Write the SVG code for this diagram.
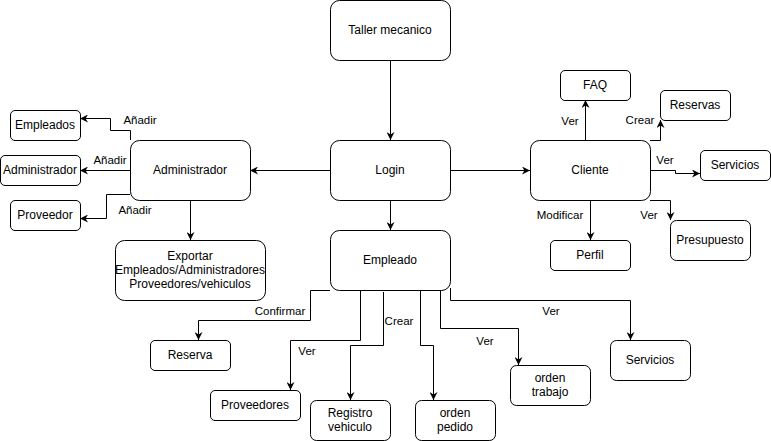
<svg xmlns="http://www.w3.org/2000/svg" width="771" height="441" viewBox="0 0 771 441">
<defs>
<marker id="arr" viewBox="0 0 10 10" markerWidth="8" markerHeight="8" refX="10" refY="5" orient="auto" markerUnits="userSpaceOnUse">
<path d="M0,0 L10,5 L0,10 L3,5 Z" fill="#000"/>
</marker>
<style>
.n rect{fill:#fff;stroke:#000;stroke-width:1}
.n text{font-family:"Liberation Sans",Arial,sans-serif;font-size:12px;fill:#000;text-anchor:middle;dominant-baseline:central}
.e path{fill:none;stroke:#000;stroke-width:1;marker-end:url(#arr)}
.e text{font-family:"Liberation Sans",Arial,sans-serif;font-size:11.5px;fill:#000;text-anchor:middle;dominant-baseline:central}
</style>
</defs>
<rect width="771" height="441" fill="#fff"/>
<g class="e" id="connectors">
<path d="M390.5,60 V140"/>
<path d="M330,170.5 H250"/>
<path d="M450,170.5 H530"/>
<path d="M390.5,200 V230"/>
<path d="M130.5,140 V130.5 H110.5 V118.5 H80"/>
<path d="M130,170.5 H80"/>
<path d="M130,194.5 H106.5 V218.5 H80"/>
<path d="M190.5,200 V240"/>
<path d="M585.5,140 V100"/>
<path d="M650,140.5 H660.5 V120"/>
<path d="M650,170.5 H675.5 V173.5 H700"/>
<path d="M650,200.5 H670.5 V220"/>
<path d="M590.5,200 V240"/>
<path d="M330,290.5 H310.5 V320.5 H198.5 V340"/>
<path d="M360.5,290 V340.5 H290.5 V390"/>
<path d="M383.5,292 V345.5 H350.5 V400"/>
<path d="M420.5,290 V345.5 H433.5 V400"/>
<path d="M440.5,290 V328.5 H518.5 V365"/>
<path d="M450.5,288 V300.5 H630.5 V340"/>
<text x="140" y="120">Añadir</text>
<text x="110" y="160">Añadir</text>
<text x="135" y="210">Añadir</text>
<text x="570" y="121">Ver</text>
<text x="640" y="120">Crear</text>
<text x="665" y="160">Ver</text>
<text x="649" y="215">Ver</text>
<text x="560" y="215">Modificar</text>
<text x="280" y="311">Confirmar</text>
<text x="307" y="351">Ver</text>
<text x="399" y="321">Crear</text>
<text x="485" y="341">Ver</text>
<text x="551" y="311">Ver</text>
</g>
<g class="n" id="taller"><rect x="330.5" y="0.5" width="120" height="60" rx="9"/><text x="390" y="30">Taller mecanico</text></g>
<g class="n" id="login"><rect x="330.5" y="140.5" width="120" height="60" rx="9"/><text x="390" y="170">Login</text></g>
<g class="n" id="empleado"><rect x="330.5" y="230.5" width="120" height="60" rx="9"/><text x="390" y="260">Empleado</text></g>
<g class="n" id="administrador"><rect x="130.5" y="140.5" width="120" height="60" rx="9"/><text x="190" y="170">Administrador</text></g>
<g class="n" id="empleados"><rect x="10.5" y="110.5" width="70" height="30" rx="4.5"/><text x="45" y="125">Empleados</text></g>
<g class="n" id="administrador2"><rect x="0.5" y="155.5" width="80" height="30" rx="4.5"/><text x="40" y="170">Administrador</text></g>
<g class="n" id="proveedor"><rect x="10.5" y="200.5" width="70" height="30" rx="4.5"/><text x="45" y="215">Proveedor</text></g>
<g class="n" id="exportar"><rect x="115.5" y="240.5" width="150" height="60" rx="9"/><text x="190" y="256">Exportar</text><text x="190" y="270">Empleados/Administradores</text><text x="190" y="284">Proveedores/vehiculos</text></g>
<g class="n" id="cliente"><rect x="530.5" y="140.5" width="120" height="60" rx="9"/><text x="590" y="170">Cliente</text></g>
<g class="n" id="faq"><rect x="560.5" y="70.5" width="70" height="30" rx="4.5"/><text x="595" y="85">FAQ</text></g>
<g class="n" id="reservas"><rect x="660.5" y="90.5" width="70" height="30" rx="4.5"/><text x="695" y="105">Reservas</text></g>
<g class="n" id="servicios1"><rect x="700.5" y="150.5" width="70" height="30" rx="4.5"/><text x="735" y="165">Servicios</text></g>
<g class="n" id="presupuesto"><rect x="670.5" y="220.5" width="80" height="40" rx="6"/><text x="710" y="240">Presupuesto</text></g>
<g class="n" id="perfil"><rect x="550.5" y="240.5" width="80" height="30" rx="4.5"/><text x="590" y="255">Perfil</text></g>
<g class="n" id="reserva"><rect x="150.5" y="340.5" width="80" height="30" rx="4.5"/><text x="190" y="355">Reserva</text></g>
<g class="n" id="proveedores"><rect x="210.5" y="390.5" width="90" height="30" rx="4.5"/><text x="255" y="405">Proveedores</text></g>
<g class="n" id="registro"><rect x="310.5" y="400.5" width="80" height="40" rx="6"/><text x="350" y="413">Registro</text><text x="350" y="427">vehiculo</text></g>
<g class="n" id="ordenpedido"><rect x="415.5" y="400.5" width="80" height="40" rx="6"/><text x="455" y="413">orden</text><text x="455" y="427">pedido</text></g>
<g class="n" id="ordentrabajo"><rect x="510.5" y="365.5" width="80" height="40" rx="6"/><text x="550" y="378">orden</text><text x="550" y="392">trabajo</text></g>
<g class="n" id="servicios2"><rect x="610.5" y="340.5" width="80" height="40" rx="6"/><text x="650" y="360">Servicios</text></g>
</svg>
